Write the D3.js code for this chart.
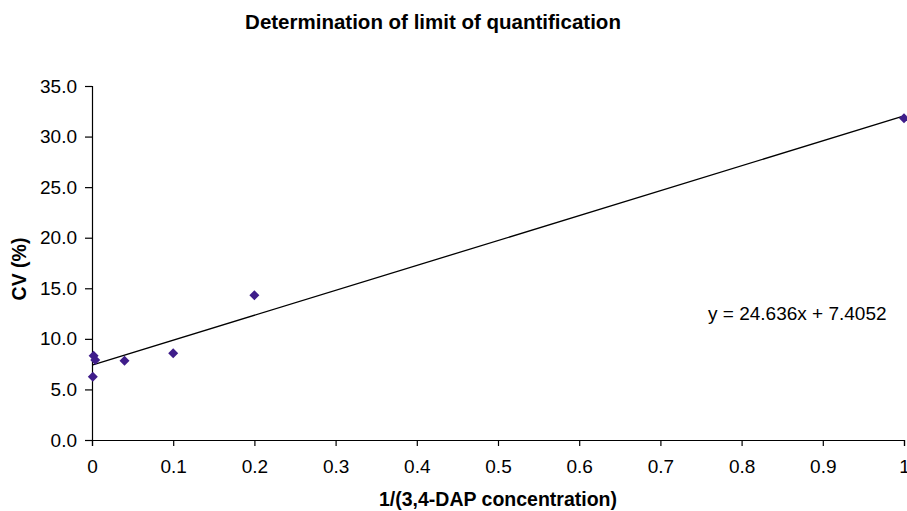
<!DOCTYPE html>
<html>
<head>
<meta charset="utf-8">
<script src="https://cdn.jsdelivr.net/npm/d3@7"></script>
<style>
  body { margin: 0; background: #fff; }
  svg text { font-family: "Liberation Sans", Arial, sans-serif; fill: #000; }
</style>
</head>
<body>
<div id="chart"></div>
<script>
// Chart size
var width = 907;
var height = 511;

// Data: x = 1/(3,4-DAP concentration), y = CV (%)
var xValues = [0.001, 0.002, 0.004, 0.04, 0.1, 0.2, 1];
var cvValues = [6.26, 8.34, 7.9, 7.84, 8.57, 14.3, 31.8];

// Linear trendline from the label
var slope = 24.636;
var intercept = 7.4052;

var xTicks = [0, 0.1, 0.2, 0.3, 0.4, 0.5, 0.6, 0.7, 0.8, 0.9, 1];
var yTicks = [0, 5, 10, 15, 20, 25, 30, 35];

var titleText = "Determination of limit of quantification";
var xLabel = "1/(3,4-DAP concentration)";
var yLabel = "CV (%)";

// Plot area ("top" is taken by window.top, so use other names)
var plotLeft = 92, plotRight = 904, plotTop = 86, plotBottom = 440;

var svg = d3.select("#chart")
  .append("svg")
  .attr("width", width)
  .attr("height", height);

var x = d3.scaleLinear().domain([0, 1]).range([plotLeft, plotRight]);
var y = d3.scaleLinear().domain([0, 35]).range([plotBottom, plotTop]);

// Title
svg.append("text")
  .attr("x", 433)
  .attr("y", 29)
  .attr("text-anchor", "middle")
  .style("font-size", "20.5px")
  .style("font-weight", "bold")
  .text(titleText);

// Y axis
svg.append("g")
  .attr("transform", "translate(" + plotLeft + ",0)")
  .call(d3.axisLeft(y).tickValues(yTicks).tickFormat(d3.format(".1f")).tickSizeOuter(0).tickSize(7).tickPadding(8));

// X axis
svg.append("g")
  .attr("transform", "translate(0," + plotBottom + ")")
  .call(d3.axisBottom(x).tickValues(xTicks).tickFormat(d3.format("")).tickSizeOuter(0).tickSize(6).tickPadding(14));

svg.selectAll(".domain, .tick line").attr("stroke", "#000").attr("stroke-width", 1.2);
svg.selectAll(".tick text")
  .style("font-size", "19px")
  .style("font-family", "Liberation Sans, Arial, sans-serif")
  .attr("fill", "#000");

// Axis titles
svg.append("text")
  .attr("x", (plotLeft + plotRight) / 2)
  .attr("y", 506)
  .attr("text-anchor", "middle")
  .style("font-size", "19.5px")
  .style("font-weight", "bold")
  .text(xLabel);

svg.append("text")
  .attr("transform", "translate(26," + 269 + ") rotate(-90)")
  .attr("text-anchor", "middle")
  .style("font-size", "19.5px")
  .style("font-weight", "bold")
  .text(yLabel);

// Trendline
var xMin = d3.min(xValues), xMax = d3.max(xValues);
svg.append("line")
  .attr("x1", x(xMin))
  .attr("y1", y(slope * xMin + intercept))
  .attr("x2", x(xMax))
  .attr("y2", y(slope * xMax + intercept))
  .attr("stroke", "#000")
  .attr("stroke-width", 1.3);

// Markers (diamonds)
var diamond = d3.symbol().type(d3.symbolSquare).size(50);
svg.selectAll("path.point")
  .data(xValues)
  .enter()
  .append("path")
  .attr("class", "point")
  .attr("d", diamond)
  .attr("transform", function(d, i) {
    return "translate(" + x(d) + "," + y(cvValues[i]) + ") rotate(45)";
  })
  .attr("fill", "#3f1d8a");

// Equation label
svg.append("text")
  .attr("x", 708)
  .attr("y", 320)
  .style("font-size", "19px")
  .text("y = " + slope + "x + " + intercept);
</script>
</body>
</html>
